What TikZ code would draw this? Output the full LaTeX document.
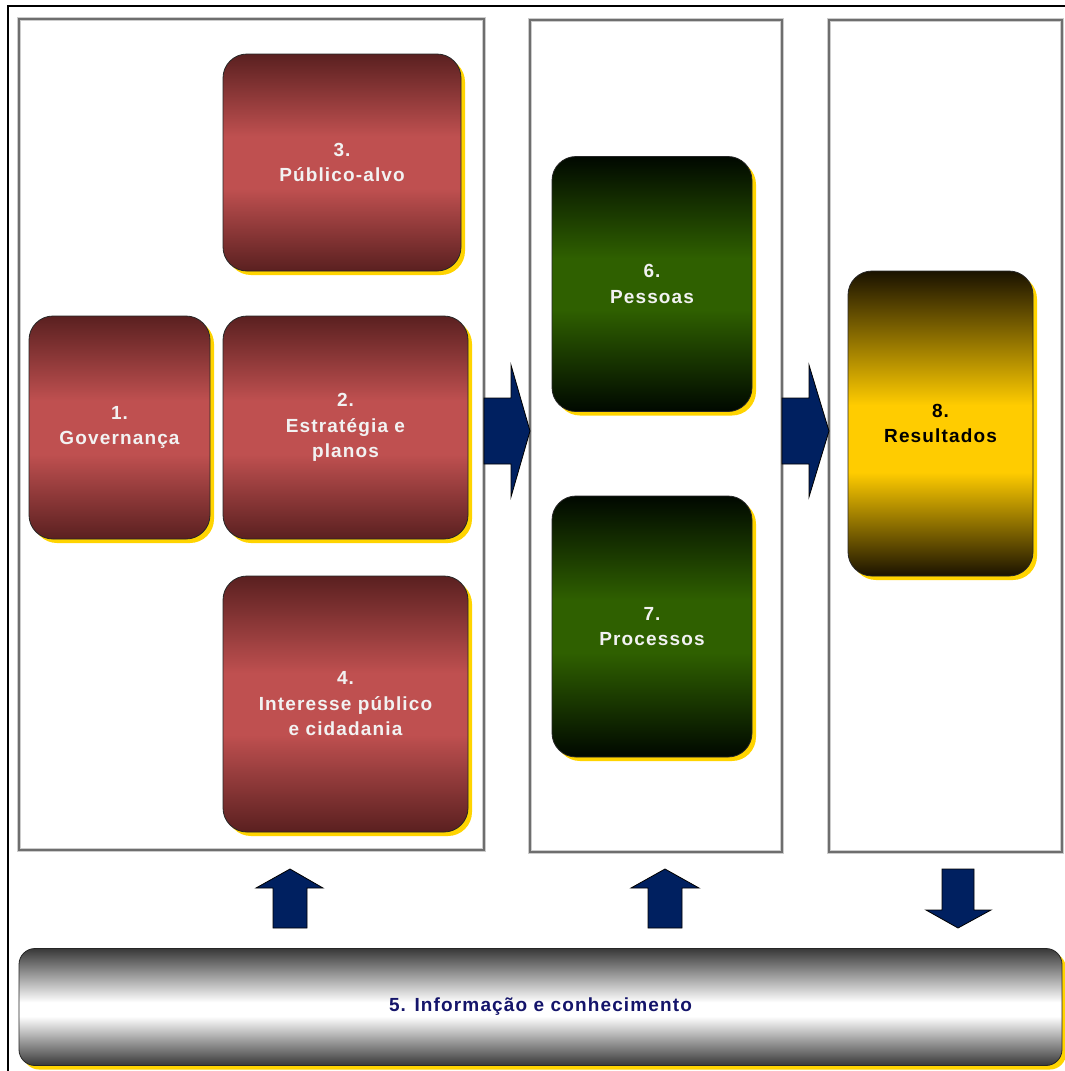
\documentclass[tikz,border=0pt]{standalone}
\usepackage{fontspec}
\setmainfont{Liberation Sans}[LetterSpace=6]
\usetikzlibrary{shadows}
\definecolor{redtop}{HTML}{5A2020}
\definecolor{redmid}{HTML}{BF5050}
\definecolor{grntop}{HTML}{000800}
\definecolor{grnmid}{HTML}{2F6000}
\definecolor{yeltop}{HTML}{1A1200}
\definecolor{yelmid}{HTML}{FFCC00}
\definecolor{shadowyel}{HTML}{FFD400}
\definecolor{navy}{HTML}{002060}
\definecolor{bartext}{HTML}{14146A}
\definecolor{panelgray}{HTML}{6E6E6E}
\definecolor{bardark}{HTML}{383838}
\pgfdeclareverticalshading{redshade}{100bp}{color(0bp)=(redtop); color(25bp)=(redtop); color(44bp)=(redmid); color(56bp)=(redmid); color(75bp)=(redtop); color(100bp)=(redtop)}
\pgfdeclareverticalshading{greenshade}{100bp}{color(0bp)=(grntop); color(25bp)=(grntop); color(45bp)=(grnmid); color(55bp)=(grnmid); color(75bp)=(grntop); color(100bp)=(grntop)}
\pgfdeclareverticalshading{yellowshade}{100bp}{color(0bp)=(yeltop); color(25bp)=(yeltop); color(42bp)=(yelmid); color(53bp)=(yelmid); color(75bp)=(yeltop); color(100bp)=(yeltop)}
\pgfdeclareverticalshading{barshade}{100bp}{color(0bp)=(bardark); color(25bp)=(bardark); color(46bp)=(white); color(52bp)=(white); color(75bp)=(bardark); color(100bp)=(bardark)}
\tikzset{
  boxbase/.style={draw=black!85, line width=0.8pt, rounded corners=24pt,
    align=center, inner sep=0pt,
    font=\bfseries\fontsize{19}{25.5}\selectfont,
    drop shadow={shadow xshift=4pt, shadow yshift=-4pt, fill=shadowyel, opacity=1}},
  redbox/.style={boxbase, shading=redshade, text=white!95!black},
  greenbox/.style={boxbase, shading=greenshade, text=white!95!black},
  yellowbox/.style={boxbase, shading=yellowshade, text=black},
  barbox/.style={boxbase, rounded corners=16pt, shading=barshade, text=bartext},
  panel/.style={draw=panelgray, line width=2pt},
  panelhalo/.style={draw=black!20, line width=4pt},
  blockarrow/.style={fill=navy, draw=black, line width=0.8pt, line join=miter}
}
\begin{document}
\begin{tikzpicture}[x=1pt, y=-1pt]
\useasboundingbox (0,0) rectangle (1065,1071);
\fill[white] (0,0) rectangle (1065,1071);
% outer frame
\draw[black, line width=1.5pt] (8,1071) -- (8,6) -- (1065,6);
% panels
\foreach \a/\b/\c/\d in {19/19/484/850, 530/20/782/852, 829/20/1062/852}{
  \draw[panelhalo] (\a,\b) rectangle (\c,\d);
  \draw[panel] (\a,\b) rectangle (\c,\d);
}
% boxes
\node[redbox, minimum width=238pt, minimum height=217pt] (b3) at (342,162.5) {3.\\Público-alvo};
\node[redbox, minimum width=181pt, minimum height=223pt] (b1) at (119.5,427.5) {1.\\Governança};
\node[redbox, minimum width=245pt, minimum height=223pt] (b2) at (345.5,427.5) {2.\\Estratégia e\\planos};
\node[redbox, minimum width=245pt, minimum height=256pt] (b4) at (345.5,704) {4.\\Interesse público\\e cidadania};
\node[greenbox, minimum width=200pt, minimum height=255pt] (b6) at (652,284) {6.\\Pessoas};
\node[greenbox, minimum width=200pt, minimum height=261pt] (b7) at (652,626.5) {7.\\Processos};
\node[yellowbox, minimum width=185pt, minimum height=305pt] (b8) at (940.5,423.5) {8.\\Resultados};
\node[barbox, minimum width=1043pt, minimum height=117pt] (b5) at (540.5,1007) {5. Informação e conhecimento};
% block arrows
\draw[blockarrow] (484,398) -- (511,398) -- (511,365) -- (530,431) -- (511,497) -- (511,464) -- (484,464) -- cycle;
\draw[blockarrow] (782,398) -- (809,398) -- (809,365) -- (829,431) -- (809,497) -- (809,464) -- (782,464) -- cycle;
\draw[blockarrow] (273,928) -- (273,888) -- (256,888) -- (290,869) -- (323,888) -- (307,888) -- (307,928) -- cycle;
\draw[blockarrow] (648,928) -- (648,888) -- (631,888) -- (665,869) -- (699,888) -- (682,888) -- (682,928) -- cycle;
\draw[blockarrow] (942,869) -- (974,869) -- (974,910) -- (991,910) -- (958,928) -- (926,910) -- (942,910) -- cycle;
\end{tikzpicture}
\end{document}
